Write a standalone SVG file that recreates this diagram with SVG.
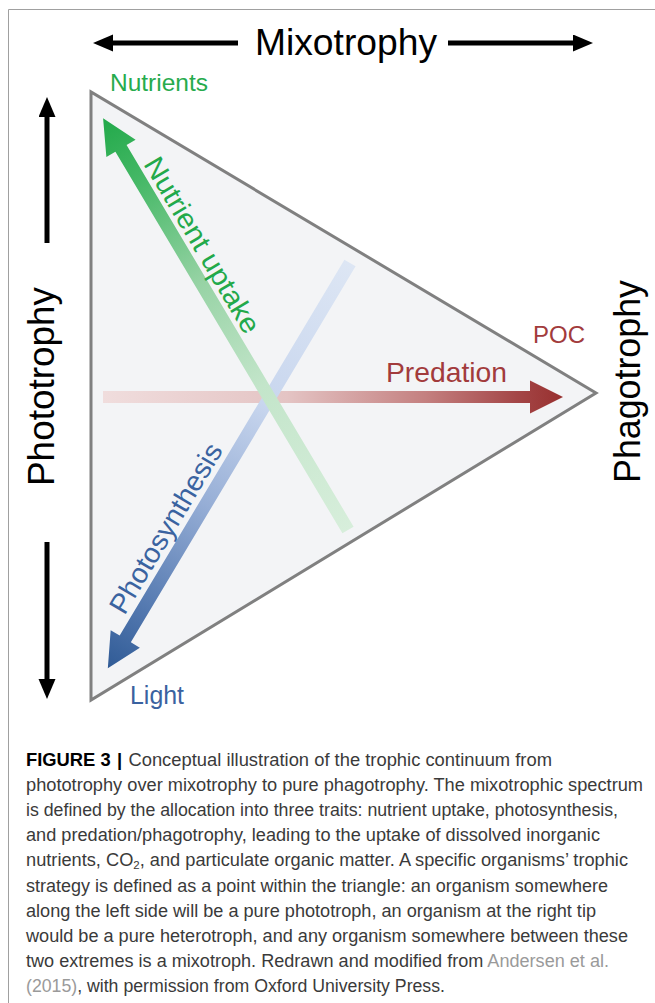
<svg xmlns="http://www.w3.org/2000/svg" width="655" height="1003" viewBox="0 0 655 1003">
<style>
  .lbl { font-family: "Liberation Sans", Arial, sans-serif; }
  .axis { font-family: "Liberation Sans", Arial, sans-serif; font-size: 37px; fill: #000; }
  .cap { font-family: "Liberation Sans Narrow", "Liberation Sans", Arial, sans-serif; font-size: 17.5px; fill: #3a3a3a; }
  .blk { stroke: #000; stroke-width: 5; fill: none; }
</style>
<defs>
  <marker id="ah" markerUnits="userSpaceOnUse" markerWidth="21" markerHeight="18" refX="1" refY="8.5" orient="auto">
    <path d="M0,0 L20,8.5 L0,17 Z" fill="#000"/>
  </marker>
  <linearGradient id="gGreen" gradientUnits="userSpaceOnUse" x1="0" y1="0" x2="479" y2="0">
    <stop offset="0" stop-color="#d7eedb"/>
    <stop offset="0.35" stop-color="#c3e5ca"/>
    <stop offset="0.6" stop-color="#97d3a5"/>
    <stop offset="0.85" stop-color="#45b866"/>
    <stop offset="1" stop-color="#22a94a"/>
  </linearGradient>
  <linearGradient id="gBlue" gradientUnits="userSpaceOnUse" x1="0" y1="0" x2="472" y2="0">
    <stop offset="0" stop-color="#dde6f4"/>
    <stop offset="0.35" stop-color="#c8d6ee"/>
    <stop offset="0.6" stop-color="#95add5"/>
    <stop offset="0.85" stop-color="#5479b0"/>
    <stop offset="1" stop-color="#305b96"/>
  </linearGradient>
  <linearGradient id="gRed" gradientUnits="userSpaceOnUse" x1="0" y1="0" x2="460" y2="0">
    <stop offset="0" stop-color="#f0dddd"/>
    <stop offset="0.4" stop-color="#e4c4c4"/>
    <stop offset="0.7" stop-color="#c48080"/>
    <stop offset="0.9" stop-color="#a44647"/>
    <stop offset="1" stop-color="#98302f"/>
  </linearGradient>
</defs>

<g id="frame" stroke="#a0a0a0" stroke-width="1" fill="none">
  <path d="M655,9.5 H8.5 V1003"/>
</g>

<g id="triangle">
  <polygon points="91,92 91,700 596,393" fill="#f3f4f6" stroke="#808080" stroke-width="3" stroke-linejoin="miter"/>
</g>

<g id="connectors">
  <g id="axis-arrows">
    <line class="blk" x1="238" y1="43" x2="112" y2="43" marker-end="url(#ah)"/>
    <line class="blk" x1="448" y1="43" x2="574" y2="43" marker-end="url(#ah)"/>
    <line class="blk" x1="47" y1="243" x2="47" y2="116" marker-end="url(#ah)"/>
    <line class="blk" x1="47" y1="542" x2="47" y2="680" marker-end="url(#ah)"/>
  </g>
  <g id="predation-arrow" transform="translate(103,397)">
    <polygon points="0,-6 427,-6 427,-16.5 460,0 427,16.5 427,6 0,6" fill="url(#gRed)"/>
  </g>
  <g id="photosynthesis-arrow" transform="translate(350,263) rotate(120.87)">
    <polygon points="0,-6.5 438,-6.5 438,-17 472,0 438,17 438,6.5 0,6.5" fill="url(#gBlue)"/>
  </g>
  <g id="nutrient-arrow" transform="translate(348,530) rotate(-120.75)">
    <polygon points="0,-6.5 444,-6.5 444,-17 479,0 444,17 444,6.5 0,6.5" fill="url(#gGreen)"/>
  </g>
</g>

<g id="mixotrophy">
  <text class="axis" x="255" y="55" textLength="182" lengthAdjust="spacingAndGlyphs">Mixotrophy</text>
</g>
<g id="phototrophy">
  <text class="axis" transform="translate(54,486) rotate(-90)" x="0" y="0" textLength="199" lengthAdjust="spacingAndGlyphs">Phototrophy</text>
</g>
<g id="phagotrophy">
  <text class="axis" transform="translate(640,483) rotate(-90)" x="0" y="0" textLength="203" lengthAdjust="spacingAndGlyphs">Phagotrophy</text>
</g>

<g id="nutrients">
  <text class="lbl" x="110" y="91" font-size="24" fill="#27ab4d" textLength="98" lengthAdjust="spacingAndGlyphs">Nutrients</text>
</g>
<g id="light">
  <text class="lbl" x="130" y="704" font-size="25" fill="#3a62a0" textLength="54" lengthAdjust="spacingAndGlyphs">Light</text>
</g>
<g id="poc">
  <text class="lbl" x="533" y="343" font-size="24" fill="#a23b3c" textLength="52" lengthAdjust="spacingAndGlyphs">POC</text>
</g>
<g id="predation">
  <text class="lbl" x="386" y="382" font-size="28" fill="#a23b3c" textLength="121" lengthAdjust="spacingAndGlyphs">Predation</text>
</g>
<g id="nutrient-uptake">
  <text class="lbl" transform="translate(143,164) rotate(59.25)" font-size="28" fill="#22a94a" textLength="200" lengthAdjust="spacingAndGlyphs">Nutrient uptake</text>
</g>
<g id="photosynthesis">
  <text class="lbl" transform="translate(124.5,616) rotate(-59.13)" font-size="28" fill="#3a63a0" textLength="193" lengthAdjust="spacingAndGlyphs">Photosynthesis</text>
</g>

<g id="caption">
  <text class="cap" x="26" y="765.5" textLength="526" lengthAdjust="spacingAndGlyphs"><tspan font-weight="bold" fill="#000">FIGURE 3</tspan><tspan dx="6" font-weight="bold" fill="#000">|</tspan><tspan dx="6">Conceptual illustration of the trophic continuum from</tspan></text>
  <text class="cap" x="26" y="790.7" textLength="617" lengthAdjust="spacingAndGlyphs">phototrophy over mixotrophy to pure phagotrophy. The mixotrophic spectrum</text>
  <text class="cap" x="26" y="815.9" textLength="592" lengthAdjust="spacingAndGlyphs">is defined by the allocation into three traits: nutrient uptake, photosynthesis,</text>
  <text class="cap" x="26" y="841.1" textLength="574" lengthAdjust="spacingAndGlyphs">and predation/phagotrophy, leading to the uptake of dissolved inorganic</text>
  <text class="cap" x="26" y="866.3" textLength="602" lengthAdjust="spacingAndGlyphs">nutrients, CO<tspan font-size="11" dy="3">2</tspan><tspan dy="-3">, and particulate organic matter. A specific organisms’ trophic</tspan></text>
  <text class="cap" x="26" y="891.5" textLength="582" lengthAdjust="spacingAndGlyphs">strategy is defined as a point within the triangle: an organism somewhere</text>
  <text class="cap" x="26" y="916.7" textLength="570" lengthAdjust="spacingAndGlyphs">along the left side will be a pure phototroph, an organism at the right tip</text>
  <text class="cap" x="26" y="941.9" textLength="602" lengthAdjust="spacingAndGlyphs">would be a pure heterotroph, and any organism somewhere between these</text>
  <text class="cap" x="26" y="967.1" textLength="583" lengthAdjust="spacingAndGlyphs">two extremes is a mixotroph. Redrawn and modified from <tspan fill="#9a9a9a">Andersen et al.</tspan></text>
  <text class="cap" x="26" y="992.3" textLength="419" lengthAdjust="spacingAndGlyphs"><tspan fill="#9a9a9a">(2015)</tspan>, with permission from Oxford University Press.</text>
</g>
</svg>
